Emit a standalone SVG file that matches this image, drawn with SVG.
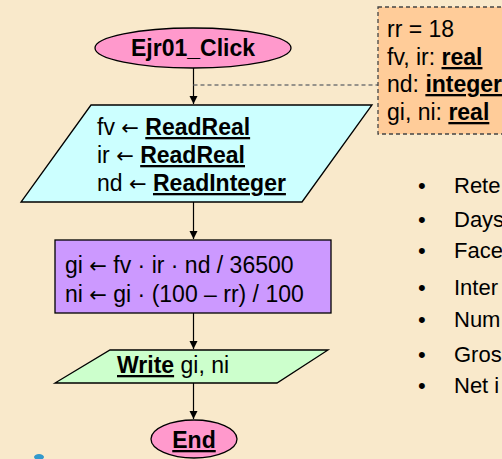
<svg xmlns="http://www.w3.org/2000/svg" width="502" height="459" viewBox="0 0 502 459">
<defs>
<style>
text{font-family:"Liberation Sans","DejaVu Sans",Arial,sans-serif;font-size:23px;fill:#000}
.b{font-weight:bold}
.u{text-decoration:underline}
.ar{font-family:"DejaVu Sans",sans-serif;font-size:21px;font-weight:normal}
.bl{font-size:22px}
.shape{stroke:#000;stroke-width:1.3}
.conn{stroke:#000;stroke-width:1.2;fill:none}
.dash{stroke:#777;stroke-width:1.3;stroke-dasharray:4 3;fill:none}
</style>
<marker id="ah" markerWidth="10" markerHeight="10" refX="9" refY="5" orient="auto" markerUnits="userSpaceOnUse">
<path d="M1,1 L9,5 L1,9 Z" fill="#000"/>
</marker>
</defs>
<rect width="502" height="459" fill="#F9E9CB"/>
<g id="connectors">
<line class="conn" x1="193.5" y1="68" x2="193.5" y2="104" marker-end="url(#ah)"/>
<line class="conn" x1="193.5" y1="202" x2="193.5" y2="239" marker-end="url(#ah)"/>
<line class="conn" x1="193.5" y1="313" x2="193.5" y2="349" marker-end="url(#ah)"/>
<line class="conn" x1="193.5" y1="383" x2="193.5" y2="419" marker-end="url(#ah)"/>
<line class="dash" x1="193.5" y1="85" x2="378" y2="85"/>
</g>
<g id="start">
<ellipse class="shape" cx="193" cy="48" rx="98" ry="20" fill="#FF99CC"/>
<text class="b" x="193" y="56" text-anchor="middle">Ejr01_Click</text>
</g>
<g id="input">
<polygon class="shape" points="91,105 372,105 302,202 21,202" fill="#CCFFFF"/>
<text x="97" y="135">fv <tspan class="ar">←</tspan> <tspan class="b u">ReadReal</tspan></text>
<text x="97" y="163">ir <tspan class="ar">←</tspan> <tspan class="b u">ReadReal</tspan></text>
<text x="97" y="191">nd <tspan class="ar">←</tspan> <tspan class="b u">ReadInteger</tspan></text>
</g>
<g id="declarations">
<rect x="378" y="7" width="140" height="127" fill="#FFCC99" stroke="#444" stroke-width="1.3" stroke-dasharray="4 3"/>
<text x="387" y="37">rr = 18</text>
<text x="387" y="65">fv, ir: <tspan class="b u">real</tspan></text>
<text x="387" y="92">nd: <tspan class="b u">integer</tspan></text>
<text x="387" y="120">gi, ni: <tspan class="b u">real</tspan></text>
</g>
<g id="process">
<rect class="shape" x="55" y="240" width="276" height="73" fill="#CC99FF"/>
<text x="65" y="273">gi <tspan class="ar">←</tspan> fv · ir · nd / 36500</text>
<text x="65" y="302">ni <tspan class="ar">←</tspan> gi · (100 – rr) / 100</text>
</g>
<g id="output">
<polygon class="shape" points="110,350 328,350 277,383 55,383" fill="#CCFFCC"/>
<text x="117" y="373"><tspan class="b u">Write</tspan> gi, ni</text>
</g>
<g id="end">
<ellipse class="shape" cx="194" cy="439" rx="43" ry="19" fill="#FF99CC"/>
<text class="b u" x="194" y="448" text-anchor="middle">End</text>
</g>
<g id="bullets">
<text class="bl" x="418" y="193">•</text><text class="bl" x="454" y="193">Rete</text>
<text class="bl" x="418" y="227">•</text><text class="bl" x="454" y="227">Days</text>
<text class="bl" x="418" y="258">•</text><text class="bl" x="454" y="258">Face</text>
<text class="bl" x="418" y="295">•</text><text class="bl" x="454" y="295">Inter</text>
<text class="bl" x="418" y="327">•</text><text class="bl" x="454" y="327">Num</text>
<text class="bl" x="418" y="362">•</text><text class="bl" x="454" y="362">Gros</text>
<text class="bl" x="418" y="393">•</text><text class="bl" x="454" y="393">Net i</text>
</g>
<ellipse cx="39" cy="457" rx="5" ry="3" fill="#3399CC"/>
</svg>
